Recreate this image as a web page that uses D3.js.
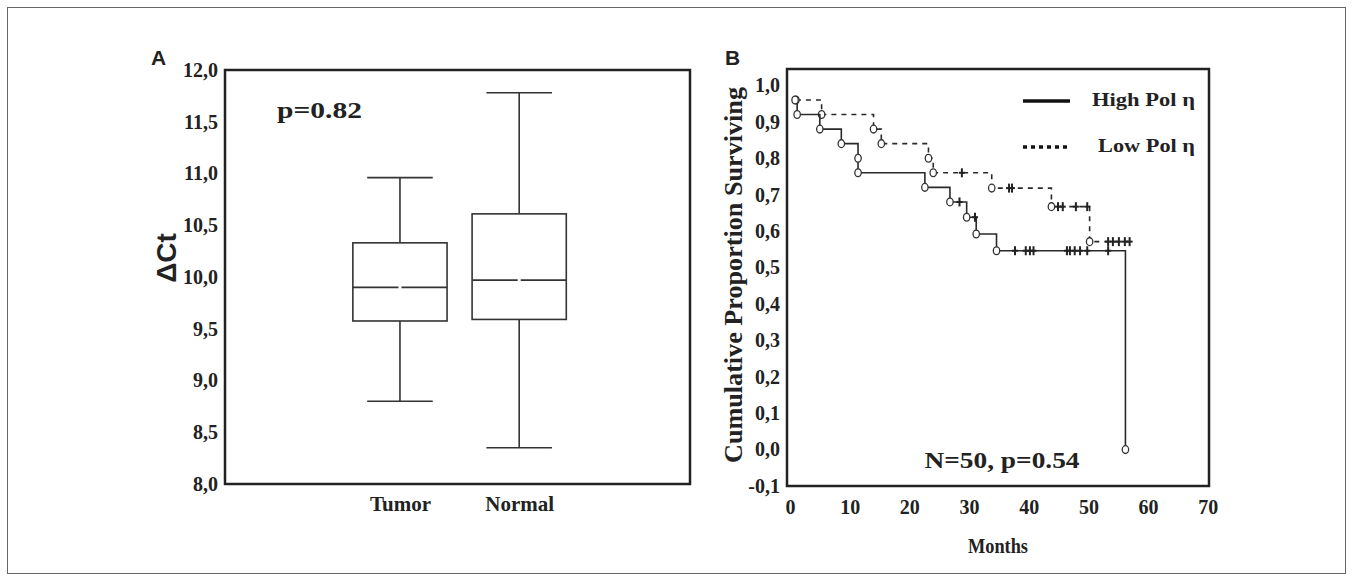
<!DOCTYPE html>
<html>
<head>
<meta charset="utf-8">
<script src="https://cdn.jsdelivr.net/npm/d3@7"></script>
<style>
  html, body { margin: 0; padding: 0; background: #fff; }
  svg { display: block; }
</style>
</head>
<body>
<script>
// ---------------- Panel A data (box plot of ΔCt) ----------------
const boxCategories = ["Tumor", "Normal"];
const boxWhiskerLow  = [8.80, 8.35];
const boxQ1          = [9.575, 9.59];
const boxMedian      = [9.90, 9.97];
const boxQ3          = [10.33, 10.61];
const boxWhiskerHigh = [10.96, 11.78];
const aTicks = [8.0, 8.5, 9.0, 9.5, 10.0, 10.5, 11.0, 11.5, 12.0];

// ---------------- Panel B data (Kaplan–Meier) ----------------
// events: [month, survival after the drop]
const highEvents = [[0.85,0.96],[1.2,0.92],[5.0,0.88],[8.6,0.84],[11.4,0.80],[11.4,0.76],
                    [22.6,0.72],[26.8,0.68],[29.6,0.638],[31.2,0.592],[34.6,0.546],[56.2,0.0]];
const highCensored = [28.4, 31.0, 37.7, 39.5, 40.2, 40.8, 46.4, 46.9, 47.7, 48.6, 49.8, 53.3];
const highEnd = 56.2;

const lowEvents = [[1.0,0.96],[5.3,0.92],[14.0,0.88],[15.3,0.84],[23.2,0.80],[24.0,0.76],
                   [33.8,0.718],[43.8,0.667],[50.2,0.571]];
const lowCensored = [28.8, 36.7, 37.2, 44.9, 45.7, 47.9, 49.8, 53.3, 54.1, 55.1, 56.1, 56.9];
const lowEnd = 57.2;

const bYTicks = [-0.1, 0.0, 0.1, 0.2, 0.3, 0.4, 0.5, 0.6, 0.7, 0.8, 0.9, 1.0];
const bXTicks = [0, 10, 20, 30, 40, 50, 60, 70];
const legendLabels = ["High Pol η", "Low Pol η"];

const W = 1353, H = 582;
const ink = "#222";
const svg = d3.select("body").append("svg").attr("width", W).attr("height", H);
svg.append("rect").attr("width", W).attr("height", H).attr("fill", "#fff");
// outer thin frame
svg.append("rect").attr("x", 7.5).attr("y", 7.5).attr("width", 1338).attr("height", 566)
  .attr("fill", "none").attr("stroke", "#666").attr("stroke-width", 1);

const serif = "'Liberation Serif', 'Times New Roman', serif";
const sans = "'Liberation Sans', Arial, sans-serif";
const fmt = d => d.toFixed(1).replace(".", ",");

// ================= Panel A =================
const A = {l: 225, t: 70, r: 690, b: 484};
const yA = d3.scaleLinear().domain([8, 12]).range([A.b, A.t]);
const xA = d3.scalePoint().domain(boxCategories).range([A.l, A.r]).padding(1.45).align(0.506);
const stepA = xA.step();

const gAy = svg.append("g").attr("transform", `translate(${A.l},0)`)
  .call(d3.axisLeft(yA).tickValues(aTicks).tickFormat(fmt).tickSize(0).tickPadding(7));
const gAx = svg.append("g").attr("transform", `translate(0,${A.b})`)
  .call(d3.axisBottom(xA).tickSize(0).tickPadding(12));
[gAy, gAx].forEach(g => {
  g.select(".domain").remove();
  g.selectAll("text").attr("fill", ink).style("font-family", serif).style("font-weight", "bold");
});
gAy.selectAll("text").style("font-size", "20px");
gAx.selectAll("text").style("font-size", "21px");

const boxes = boxCategories.map((c, i) => ({c, lo: boxWhiskerLow[i], q1: boxQ1[i], med: boxMedian[i], q3: boxQ3[i], hi: boxWhiskerHigh[i]}));
const bw = stepA * 0.79, cw = stepA * 0.55;
const gB = svg.append("g").attr("stroke", "#333").attr("stroke-width", 1.6).attr("fill", "none");
boxes.forEach(d => {
  const cx = xA(d.c);
  gB.append("line").attr("x1", cx).attr("x2", cx).attr("y1", yA(d.q3)).attr("y2", yA(d.hi));
  gB.append("line").attr("x1", cx).attr("x2", cx).attr("y1", yA(d.q1)).attr("y2", yA(d.lo));
  gB.append("line").attr("x1", cx - cw/2).attr("x2", cx + cw/2).attr("y1", yA(d.hi)).attr("y2", yA(d.hi));
  gB.append("line").attr("x1", cx - cw/2).attr("x2", cx + cw/2).attr("y1", yA(d.lo)).attr("y2", yA(d.lo));
  gB.append("rect").attr("x", cx - bw/2).attr("y", yA(d.q3)).attr("width", bw).attr("height", yA(d.q1) - yA(d.q3)).attr("fill", "#fff");
  gB.append("line").attr("x1", cx - bw/2).attr("x2", cx - 1.5).attr("y1", yA(d.med)).attr("y2", yA(d.med));
  gB.append("line").attr("x1", cx + 1.5).attr("x2", cx + bw/2).attr("y1", yA(d.med)).attr("y2", yA(d.med));
});
svg.append("rect").attr("x", A.l).attr("y", A.t).attr("width", A.r - A.l).attr("height", A.b - A.t)
  .attr("fill", "none").attr("stroke", ink).attr("stroke-width", 2.5);

svg.append("text").attr("x", 277).attr("y", 118).text("p=0.82")
  .attr("textLength", 85).attr("lengthAdjust", "spacingAndGlyphs")
  .style("font-family", serif).style("font-weight", "bold").style("font-size", "23px").attr("fill", ink);
svg.append("text").attr("transform", "translate(176,258) rotate(-90)").attr("text-anchor", "middle")
  .text("ΔCt").style("font-family", sans).style("font-weight", "bold").style("font-size", "28px").attr("fill", ink);
svg.append("text").attr("x", 151).attr("y", 65).text("A")
  .style("font-family", sans).style("font-weight", "bold").style("font-size", "21px").attr("fill", ink);

// ================= Panel B =================
const B = {l: 787, t: 69, r: 1209, b: 486};
const xB = d3.scaleLinear().domain([-0.5, 70.2]).range([B.l, B.r]);
const yB = d3.scaleLinear().domain([-0.1, 1.045]).range([B.b, B.t]);

const gBy = svg.append("g").attr("transform", `translate(${B.l},0)`)
  .call(d3.axisLeft(yB).tickValues(bYTicks).tickFormat(fmt).tickSize(0).tickPadding(7));
const gBx = svg.append("g").attr("transform", `translate(0,${B.b})`)
  .call(d3.axisBottom(xB).tickValues(bXTicks).tickFormat(d3.format("d")).tickSize(0).tickPadding(14));
[gBy, gBx].forEach(g => {
  g.select(".domain").remove();
  g.selectAll("text").attr("fill", ink).style("font-family", serif).style("font-weight", "bold").style("font-size", "20px");
});

function survAt(events, t) {
  let s = 1;
  events.forEach(e => { if (e[0] <= t) s = e[1]; });
  return s;
}
const stepLine = d3.line().x(d => xB(d[0])).y(d => yB(d[1])).curve(d3.curveStepAfter);

function drawCurve(events, censored, end, dash) {
  const pts = events.slice();
  const last = pts[pts.length - 1];
  if (end > last[0]) pts.push([end, last[1]]);
  const g = svg.append("g");
  g.append("path").attr("d", stepLine(pts)).attr("fill", "none").attr("stroke", "#2a2a2a")
    .attr("stroke-width", 1.6).attr("stroke-dasharray", dash);
  censored.forEach(t => {
    const s = survAt(events, t);
    g.append("line").attr("x1", xB(t)).attr("x2", xB(t)).attr("y1", yB(s) - 4.5).attr("y2", yB(s) + 4.5)
      .attr("stroke", "#222").attr("stroke-width", 2);
    g.append("line").attr("x1", xB(t) - 3).attr("x2", xB(t) + 3).attr("y1", yB(s)).attr("y2", yB(s))
      .attr("stroke", "#222").attr("stroke-width", 2);
  });
  events.forEach(e => {
    g.append("ellipse").attr("cx", xB(e[0])).attr("cy", yB(e[1])).attr("rx", 3.2).attr("ry", 3.9)
      .attr("fill", "#fff").attr("stroke", "#333").attr("stroke-width", 1.3);
  });
}
drawCurve(lowEvents, lowCensored, lowEnd, "5,5");
drawCurve(highEvents, highCensored, highEnd, null);

svg.append("rect").attr("x", B.l).attr("y", B.t).attr("width", B.r - B.l).attr("height", B.b - B.t)
  .attr("fill", "none").attr("stroke", ink).attr("stroke-width", 2.5);

// legend
const leg = svg.append("g");
leg.append("line").attr("x1", 1023).attr("x2", 1070).attr("y1", 101).attr("y2", 101)
  .attr("stroke", "#111").attr("stroke-width", 3.5);
leg.append("line").attr("x1", 1023).attr("x2", 1071).attr("y1", 147).attr("y2", 147)
  .attr("stroke", "#111").attr("stroke-width", 3.5).attr("stroke-dasharray", "4,4");
leg.append("text").attr("x", 1195).attr("y", 106).attr("text-anchor", "end").text(legendLabels[0])
  .attr("textLength", 103).attr("lengthAdjust", "spacingAndGlyphs")
  .style("font-family", serif).style("font-weight", "bold").style("font-size", "19px").attr("fill", ink);
leg.append("text").attr("x", 1195).attr("y", 152).attr("text-anchor", "end").text(legendLabels[1])
  .attr("textLength", 97).attr("lengthAdjust", "spacingAndGlyphs")
  .style("font-family", serif).style("font-weight", "bold").style("font-size", "19px").attr("fill", ink);

svg.append("text").attr("x", 1002).attr("y", 468).attr("text-anchor", "middle").text("N=50, p=0.54")
  .attr("textLength", 155).attr("lengthAdjust", "spacingAndGlyphs")
  .style("font-family", serif).style("font-weight", "bold").style("font-size", "23px").attr("fill", ink);
svg.append("text").attr("x", 998).attr("y", 553).attr("text-anchor", "middle").text("Months")
  .attr("textLength", 60).attr("lengthAdjust", "spacingAndGlyphs")
  .style("font-family", serif).style("font-weight", "bold").style("font-size", "21px").attr("fill", ink);
svg.append("text").attr("transform", "translate(742,275) rotate(-90)").attr("text-anchor", "middle")
  .text("Cumulative Proportion Surviving")
  .attr("textLength", 376).attr("lengthAdjust", "spacingAndGlyphs")
  .style("font-family", serif).style("font-weight", "bold").style("font-size", "25px").attr("fill", ink);
svg.append("text").attr("x", 725).attr("y", 65).text("B")
  .style("font-family", sans).style("font-weight", "bold").style("font-size", "21px").attr("fill", ink);
</script>
</body>
</html>
